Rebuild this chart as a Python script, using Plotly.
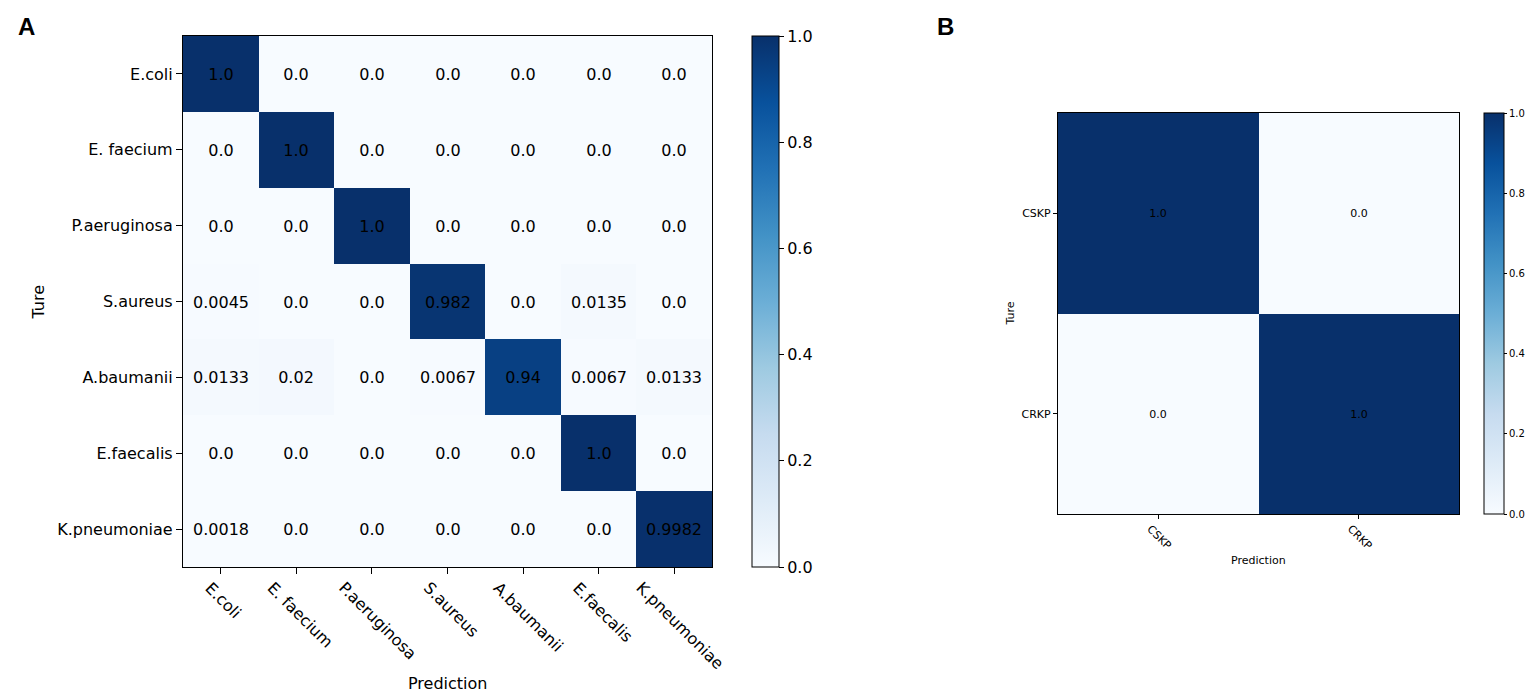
import plotly.graph_objects as go

classes_a = ["E.coli", "E. faecium", "P.aeruginosa", "S.aureus", "A.baumanii", "E.faecalis", "K.pneumoniae"]
matrix_a = [
    [1.0, 0.0, 0.0, 0.0, 0.0, 0.0, 0.0],
    [0.0, 1.0, 0.0, 0.0, 0.0, 0.0, 0.0],
    [0.0, 0.0, 1.0, 0.0, 0.0, 0.0, 0.0],
    [0.0045, 0.0, 0.0, 0.982, 0.0, 0.0135, 0.0],
    [0.0133, 0.02, 0.0, 0.0067, 0.94, 0.0067, 0.0133],
    [0.0, 0.0, 0.0, 0.0, 0.0, 1.0, 0.0],
    [0.0018, 0.0, 0.0, 0.0, 0.0, 0.0, 0.9982],
]
classes_b = ["CSKP", "CRKP"]
matrix_b = [
    [1.0, 0.0],
    [0.0, 1.0],
]
cbar_ticks = [0.0, 0.2, 0.4, 0.6, 0.8, 1.0]

OFF = 8  # page body margin
W, H = 1535, 692
def px(x):
    return (x - OFF) / W
def py(y):
    return (H - (y - OFF)) / H

FONT = "DejaVu Sans"
blues = [
    [0.0, "rgb(247,251,255)"], [0.125, "rgb(222,235,247)"], [0.25, "rgb(198,219,239)"],
    [0.375, "rgb(158,202,225)"], [0.5, "rgb(107,174,214)"], [0.625, "rgb(66,146,198)"],
    [0.75, "rgb(33,113,181)"], [0.875, "rgb(8,81,156)"], [1.0, "rgb(8,48,107)"],
]

text_a = [[repr(float(v)) for v in row] for row in matrix_a]
text_b = [[repr(float(v)) for v in row] for row in matrix_b]

fig = go.Figure()

# Panel A
ax_l, ax_r, ax_t, ax_b = 183, 712, 36, 567
fig.add_trace(go.Heatmap(
    z=matrix_a, x=classes_a, y=classes_a, text=text_a, texttemplate="%{text}",
    textfont=dict(family=FONT, size=16, color="black"),
    colorscale=blues, zmin=0, zmax=1, xaxis="x", yaxis="y", hoverinfo="skip",
    colorbar=dict(
        x=px(752), xanchor="left", xpad=0, ypad=0, thickness=27, thicknessmode="pixels",
        y=py(ax_b), yanchor="bottom", len=(ax_b - ax_t) / H, lenmode="fraction",
        outlinewidth=1, outlinecolor="black", tickvals=cbar_ticks,
        ticktext=[f"{t:.1f}" for t in cbar_ticks], ticks="outside", ticklen=5,
        tickcolor="black", tickfont=dict(family=FONT, size=16, color="black"),
    ),
))

# Panel B
bx_l, bx_r, bx_t, bx_b = 1058, 1459, 113, 514
fig.add_trace(go.Heatmap(
    z=matrix_b, x=classes_b, y=classes_b, text=text_b, texttemplate="%{text}",
    textfont=dict(family=FONT, size=11, color="black"),
    colorscale=blues, zmin=0, zmax=1, xaxis="x2", yaxis="y2", hoverinfo="skip",
    colorbar=dict(
        x=px(1484), xanchor="left", xpad=0, ypad=0, thickness=20, thicknessmode="pixels",
        y=py(bx_b), yanchor="bottom", len=(bx_b - bx_t) / H, lenmode="fraction",
        outlinewidth=1, outlinecolor="black", tickvals=cbar_ticks,
        ticktext=[f"{t:.1f}" for t in cbar_ticks], ticks="outside", ticklen=3,
        tickcolor="black", tickfont=dict(family=FONT, size=10, color="black"),
    ),
))

axis_common = dict(showline=True, mirror=True, linecolor="black", linewidth=1.2,
                   ticks="outside", tickcolor="black", showgrid=False, zeroline=False)
na, nb = len(classes_a), len(classes_b)

fig.update_layout(
    width=W, height=H, margin=dict(l=0, r=0, t=0, b=0, autoexpand=False),
    paper_bgcolor="white", plot_bgcolor="white",
    font=dict(family=FONT, color="black"),
    xaxis=dict(domain=[px(ax_l), px(ax_r)], anchor="y", ticklen=6, showticklabels=False,
               range=[-0.5, na - 0.5], autorange=False, **axis_common),
    yaxis=dict(domain=[py(ax_b), py(ax_t)], anchor="x", range=[na - 0.5, -0.5], autorange=False,
               ticklen=6, tickfont=dict(family=FONT, size=16, color="black"), **axis_common),
    xaxis2=dict(domain=[px(bx_l), px(bx_r)], anchor="y2", ticklen=4, showticklabels=False,
                range=[-0.5, nb - 0.5], autorange=False, **axis_common),
    yaxis2=dict(domain=[py(bx_b), py(bx_t)], anchor="x2", range=[nb - 0.5, -0.5], autorange=False,
                ticklen=4, tickfont=dict(family=FONT, size=11, color="black"), **axis_common),
    showlegend=False,
)

ann = [
    dict(text="<b>A</b>", x=px(26), y=py(27), font=dict(family="Liberation Sans", size=24)),
    dict(text="<b>B</b>", x=px(946), y=py(27), font=dict(family="Liberation Sans", size=24)),
    dict(text="Prediction", x=px((ax_l + ax_r) / 2), y=py(683), font=dict(size=16)),
    dict(text="Ture", x=px(38), y=py((ax_t + ax_b) / 2), textangle=-90, font=dict(size=16)),
    dict(text="Prediction", x=px((bx_l + bx_r) / 2), y=py(560), font=dict(size=11)),
    dict(text="Ture", x=px(1010), y=py((bx_t + bx_b) / 2), textangle=-90, font=dict(size=11)),
]
for a in ann:
    a.update(xref="paper", yref="paper", showarrow=False, xanchor="center", yanchor="middle")
    a["font"].setdefault("family", FONT)
    a["font"]["color"] = "black"

# rotated x tick labels, centred on their ticks like matplotlib
for c in classes_a:
    ann.append(dict(text=c, x=c, xref="x", y=py(577), yref="paper", textangle=45,
                    showarrow=False, xanchor="center", yanchor="top", borderpad=0,
                    xshift=(len(c) - 1) / 2,
                    font=dict(family=FONT, size=16, color="black")))
for c in classes_b:
    ann.append(dict(text=c, x=c, xref="x2", y=py(521), yref="paper", textangle=45,
                    showarrow=False, xanchor="center", yanchor="top", borderpad=0,
                    xshift=1,
                    font=dict(family=FONT, size=11, color="black")))

fig.update_layout(annotations=ann)

fig.write_html("out.html")
